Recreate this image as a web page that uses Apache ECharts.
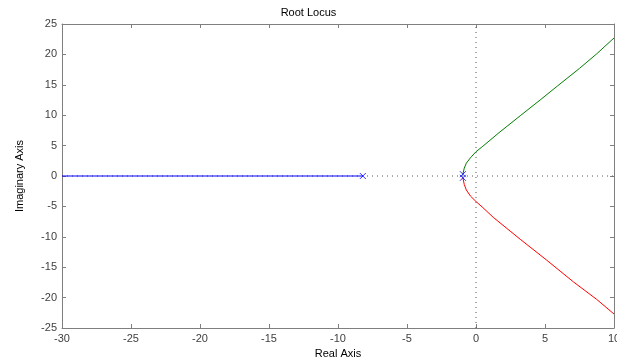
<!DOCTYPE html>
<html>
<head>
<meta charset="utf-8">
<script src="https://cdn.jsdelivr.net/npm/echarts@6/dist/echarts.min.js"></script>
<style>
  html, body { margin: 0; padding: 0; background: #fff; }
  #chart { width: 617px; height: 363px; }
</style>
</head>
<body>
<div id="chart"></div>
<script>
// root locus branches as [real, imag]
var bluePath = [[-30, 0], [-8.2, 0]]
var greenPath = [
  [-0.95, 0.3], [-0.85, 1.3], [-0.7, 2.1], [-0.4, 3.0], [0, 4.0], [0.5, 4.9],
  [1.6, 7.0], [3.2, 9.9], [4.7, 12.6], [5.9, 14.8], [7.5, 17.7], [8.75, 20.1], [10, 22.7]
]
var redPath = [
  [-0.95, -0.3], [-0.85, -1.4], [-0.7, -2.3], [-0.4, -3.3], [0, -4.2], [0.5, -5.2],
  [1.25, -6.8], [3.2, -10.4], [5.1, -13.8], [7.05, -17.4], [8.75, -20.3], [10, -22.7]
]
var poles = [[-8.2, 0], [-0.95, 0.3], [-0.95, -0.3]]
var realAxisLine = [[-30, 0], [10, 0]]
var imagAxisLine = [[0, -25], [0, 25]]

var font = 'Liberation Sans, Arial, sans-serif'
var frame = '#7f7f7f'
var labelColor = '#404040'

var chart = echarts.init(document.getElementById('chart'))

function axisBase (pos, showLabel) {
  return {
    type: 'value',
    position: pos,
    axisLine: { show: true, onZero: false, lineStyle: { color: frame, width: 1 } },
    axisTick: { show: true, inside: true, length: 4, lineStyle: { color: frame } },
    axisLabel: { show: showLabel, color: labelColor, fontFamily: font, fontSize: 11, margin: 5 },
    splitLine: { show: false }
  }
}

var xBottom = Object.assign(axisBase('bottom', true), {
  min: -30, max: 10, interval: 5,
  name: 'Real Axis', nameLocation: 'middle', nameGap: 20,
  nameTextStyle: { color: '#000', fontFamily: font, fontSize: 11 }
})
var xTop = Object.assign(axisBase('top', false), { min: -30, max: 10, interval: 5 })
var yLeft = Object.assign(axisBase('left', true), {
  min: -25, max: 25, interval: 5,
  name: 'Imaginary Axis', nameLocation: 'middle', nameGap: 37,
  nameTextStyle: { color: '#000', fontFamily: font, fontSize: 11 }
})
var yRight = Object.assign(axisBase('right', false), { min: -25, max: 25, interval: 5 })

function lineSeries (data, color, type) {
  return {
    type: 'line',
    data: data,
    xAxisIndex: 0,
    yAxisIndex: 0,
    showSymbol: false,
    animation: false,
    lineStyle: { color: color, width: 1, type: type || 'solid' },
    z: type ? 1 : 2
  }
}

chart.setOption({
  backgroundColor: '#fff',
  animation: false,
  title: {
    text: 'Root Locus',
    left: 'center',
    top: 2,
    textStyle: { fontFamily: font, fontSize: 11, fontWeight: 'normal', color: '#000' }
  },
  grid: { left: 62, right: 3, top: 24, bottom: 35, outerBoundsMode: 'none', containLabel: false },
  xAxis: [xBottom, xTop],
  yAxis: [yLeft, yRight],
  series: [
    lineSeries(realAxisLine, '#555', [1, 4]),
    lineSeries(imagAxisLine, '#555', [1, 4]),
    lineSeries(bluePath, '#0000ff'),
    lineSeries(greenPath, '#008000'),
    lineSeries(redPath, '#ff0000'),
    {
      type: 'scatter',
      data: poles,
      symbol: 'path://M0,0L10,10M10,0L0,10',
      symbolSize: 6,
      itemStyle: { color: 'none', borderColor: '#0000ff', borderWidth: 1 },
      z: 3
    }
  ]
})
</script>
</body>
</html>
